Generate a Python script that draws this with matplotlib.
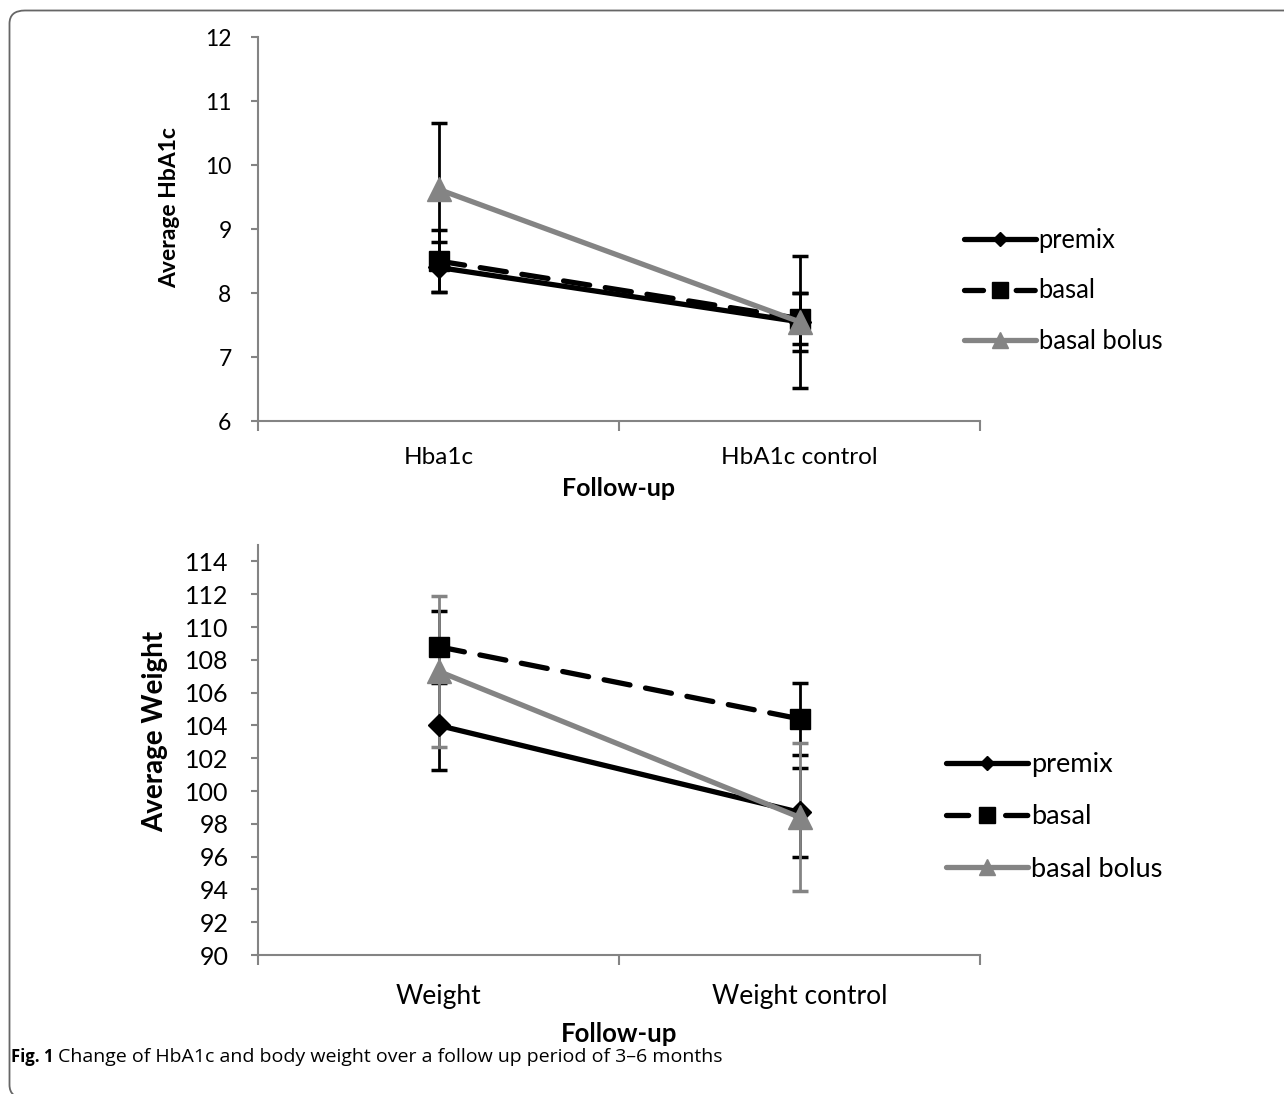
import matplotlib
matplotlib.use("Agg")
import matplotlib.pyplot as plt
from matplotlib.lines import Line2D
from matplotlib.patches import FancyBboxPatch

plt.rcParams['font.family'] = ['Lato', 'DejaVu Sans']

# ---- data ----
series = ["premix", "basal", "basal bolus"]
hba_cats = ["Hba1c", "HbA1c control"]
hba_vals = {"premix": [8.40, 7.55], "basal": [8.50, 7.60], "basal bolus": [9.62, 7.55]}
hba_err = {"premix": [0.39, 0.45], "basal": [0.49, 0.40], "basal bolus": [1.03, 1.03]}
hba_yticks = [6, 7, 8, 9, 10, 11, 12]

wt_cats = ["Weight", "Weight control"]
wt_vals = {"premix": [104.0, 98.7], "basal": [108.8, 104.4], "basal bolus": [107.3, 98.4]}
wt_err = {"premix": [2.7, 2.7], "basal": [2.2, 2.2], "basal bolus": [4.6, 4.5]}
wt_yticks = list(range(90, 115, 2))

GRAY = "#848484"
styles = {
    "premix": dict(color="black", ls="-", marker="D", ms=11, lw=3.8),
    "basal": dict(color="black", ls=(0, (5, 3)), marker="s", ms=15, lw=3.8),
    "basal bolus": dict(color=GRAY, ls="-", marker="^", ms=17, lw=3.8),
}
leg_ms = {"premix": 7, "basal": 11, "basal bolus": 11}

W, H = 1284, 1094
fig = plt.figure(figsize=(W / 100, H / 100), dpi=100)

# border
fig.patches.append(FancyBboxPatch((9.5 / W, 1 - 1098 / H), 1.2, (1098 - 10.5) / H,
                                  boxstyle="round,pad=0,rounding_size=0.012",
                                  transform=fig.transFigure, fill=False,
                                  edgecolor="#666666", lw=1.3))


def setup(ax, cats, yticks, ylim, tick_fs, ytick_pad, xtick_fs, xtick_pad,
          ylabel, lab_fs, ylab_xy, xlab_fs, xlabpad):
    ax.set_xlim(-0.5, 1.5)
    ax.set_ylim(*ylim)
    for s in ["top", "right"]:
        ax.spines[s].set_visible(False)
    for s in ["left", "bottom"]:
        ax.spines[s].set_color(GRAY)
        ax.spines[s].set_linewidth(1.5)
    ax.set_yticks(yticks)
    ax.set_yticklabels([str(t) for t in yticks], fontsize=tick_fs)
    ax.tick_params(axis="y", direction="out", length=5, width=1.5, color=GRAY, pad=ytick_pad)
    ax.set_xticks([-0.5, 0.5, 1.5])
    ax.set_xticklabels(["", "", ""])
    ax.tick_params(axis="x", which="major", direction="out", length=7, width=1.5, color=GRAY)
    ax.set_xticks([0, 1], minor=True)
    ax.set_xticklabels(cats, minor=True, fontsize=xtick_fs)
    ax.tick_params(axis="x", which="minor", length=0, pad=xtick_pad)
    ax.set_ylabel(ylabel, fontsize=lab_fs, fontweight="bold")
    ax.yaxis.set_label_coords(*ylab_xy)
    ax.set_xlabel("Follow-up", fontsize=xlab_fs, fontweight="bold", labelpad=xlabpad)


def draw(ax, vals, errs, err_colors):
    x = [0, 1]
    for s in series:
        ax.errorbar(x, vals[s], yerr=errs[s], fmt="none", ecolor=err_colors[s],
                    elinewidth=2.0, capsize=6, capthick=2.5, zorder=2)
    for s in series:
        st = styles[s]
        ax.plot(x, vals[s], color=st["color"], ls=st["ls"], lw=st["lw"],
                marker=st["marker"], ms=st["ms"], mec=st["color"], mfc=st["color"],
                zorder=3, solid_capstyle="round", dash_capstyle="round")


def legend(ax, x0, yc, fs, spacing, hl, dash):
    handles = []
    for s in series:
        ls = (0, dash) if s == "basal" else styles[s]["ls"]
        handles.append(Line2D([], [], color=styles[s]["color"], ls=ls, lw=3.8,
                              marker=styles[s]["marker"], ms=leg_ms[s],
                              solid_capstyle="round", dash_capstyle="round"))
    ax.legend(handles, series, loc="center left", bbox_to_anchor=(x0, yc),
              bbox_transform=fig.transFigure, frameon=False, fontsize=fs,
              handlelength=hl, handletextpad=0.12, borderpad=0, borderaxespad=0,
              labelspacing=spacing)


ax1 = fig.add_axes([258 / W, 1 - 421 / H, (980 - 258) / W, (421 - 37) / H])
setup(ax1, hba_cats, hba_yticks, (6, 12), 16.5, 14, 17.5, 19,
      "Average HbA1c", 16.5, (-0.108, 0.557), 18, 6)
draw(ax1, hba_vals, hba_err, {s: "black" for s in series})
legend(ax1, 964 / W, 1 - 291 / H, 18.4, 1.0, 2.8, (3.6, 6.2))

ax2 = fig.add_axes([258 / W, 1 - 955 / H, (980 - 258) / W, (955 - 545) / H])
setup(ax2, wt_cats, wt_yticks, (90, 115), 18, 16, 19, 21,
      "Average Weight", 20, (-0.1247, 0.546), 18.5, 9)
draw(ax2, wt_vals, wt_err, {"premix": "black", "basal": "black", "basal bolus": GRAY})
legend(ax2, 946 / W, 1 - 817 / H, 19.6, 1.0, 3.0, (4.2, 7.0))

fig.text(11 / W, 1 - 1057 / H, "Fig. 1", fontsize=12, fontweight="bold",
         va="center", ha="left", family=["Open Sans", "DejaVu Sans"])
fig.text(58 / W, 1 - 1057 / H, "Change of HbA1c and body weight over a follow up period of 3\u20136 months",
         fontsize=14, va="center", ha="left", family=["Open Sans", "DejaVu Sans"])

fig.savefig("out.png", dpi=100)
